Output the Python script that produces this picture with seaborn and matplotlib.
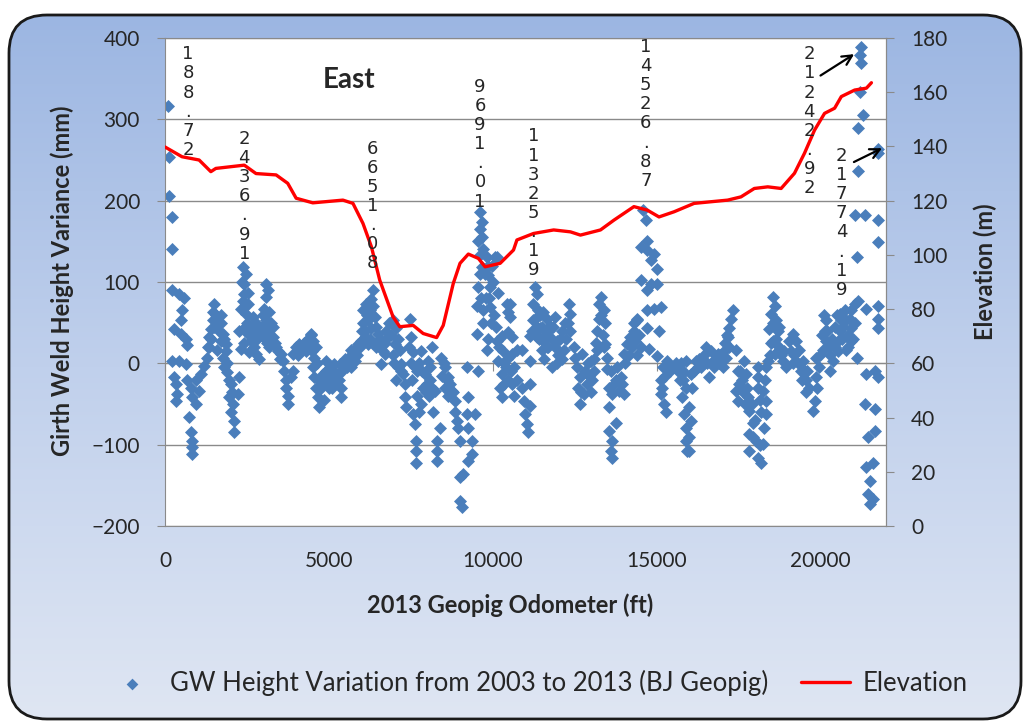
import numpy as np
import pandas as pd
import matplotlib
matplotlib.use('Agg')
import matplotlib.pyplot as plt
import seaborn as sns
from matplotlib.patches import FancyBboxPatch
from matplotlib.colors import LinearSegmentedColormap

# Girth weld height variation (mm) vs 2013 odometer (ft)
gw_ft = (
    [100, 110, 120, 200, 200, 225, 430, 580, 530, 480, 275, 480, 630, 680, 225, 430, 630, 275, 330, 380, 330, 680, 785, 835, 940, 735, 785, 835, 835, 835]
    + [1040, 940, 1090, 1195, 1295, 1345, 1345, 1400, 1450, 1450, 1500, 1600, 1705, 1755, 1705, 1860, 1600, 1755, 1805, 1905, 2010, 1960, 2060, 2010, 2110, 2110, 2265, 2215]
    + [2365, 2470, 2420, 2520, 2365, 2520, 2315, 2470, 2670, 2775, 2265, 2520, 2620, 2315, 2570, 2775, 2875, 2725, 2875, 2980]
    + [3080, 3130, 3080, 3030, 3180, 3080, 3235, 2980, 3285, 3390, 3180, 3540, 3590, 3645, 3695, 3695, 3745, 3745, 3850, 3900]
    + [3900, 4000, 4100, 4200, 4355, 4460, 4510, 4610, 4560, 4510, 4560, 4610, 4660, 4710, 4815, 4920, 5020, 5120, 5225, 5325, 5170, 5275, 5375, 5375]
    + [5580, 5680, 5785, 5680, 5885, 5990, 6090, 6190, 6040, 6140, 6295, 6345, 6400, 6190, 6295, 6500, 6550, 6705, 6600, 6805, 6960, 7060, 7010, 7160, 7210, 7260, 7315, 7315, 7365]
    + [7465, 7515, 7570, 7620, 7570, 7620, 7670, 7670, 7670, 7825, 7880, 7930, 8030, 8135, 8080, 8235, 8185, 8385, 8285, 8285, 8285, 8435, 8540, 8640, 8540, 8745, 8845, 8900, 9000, 9200, 9250, 9200, 9455, 9250, 9355, 9355, 9250, 9000, 9100, 9000, 9050, 9560]
    + [9610, 9660, 9660, 9560, 9610, 9660, 10075, 10120, 9815, 9970, 9865, 9560, 9920, 10175, 9510, 9715, 9920, 10430, 10480, 9510, 9865, 9815, 10120, 10275, 10480, 10175, 10275, 10225, 10275, 10480, 10585]
    + [10530, 10530, 10585, 10635, 10740, 10890, 10740, 10890, 11140, 10940, 11140, 10990, 11040, 11090, 11140]
    + [11290, 11345, 11240, 11395, 11545, 11240, 11445, 11650, 11750, 11910, 11140, 11345, 11545, 11700, 11495, 11800, 11960, 12115, 12215, 12320, 12370, 12370, 12165, 12470, 12520, 12730, 12575, 12675, 12830, 12985, 12880, 12780, 12675, 13035, 13085, 13185]
    + [13290, 13240, 13390, 13240, 13440, 13185, 13440, 13490, 13490, 13545, 13545, 13645, 13750, 13800, 13900, 13850, 14000, 13545, 13645, 13595, 13645, 13750, 14000, 14100, 14200, 14305, 14355, 14405, 14510, 14765, 15020]
    + [14600, 14670, 14720, 14510, 14715, 14920, 14820, 15020, 14510, 14820, 14715, 15020, 14405, 14715, 14920, 15125, 14715, 15075]
    + [15330, 15535, 15740, 15840, 15125, 15125, 15230, 15280, 15780, 15840, 15890, 15890, 15940]
    + [15890, 16045, 16095, 15995, 16045, 15995, 15995, 16200, 16350, 16505, 16605, 16710, 16860, 17015, 17115, 17220, 17170, 17220, 17270, 17320, 17425, 17475, 17525, 17425, 17475]
    + [17680, 17730, 17780, 17830, 17935, 17830, 17830, 18035, 18090, 18190, 18240, 18290, 18340, 18340, 18090, 18090, 18090, 18240, 18395, 18340]
    + [18545, 18600, 18495, 18650, 18445, 18700, 18545, 18750, 18600, 18850, 18950, 19160, 19260, 19055, 19360, 19465, 19515, 19565, 19665, 19820, 19770, 19870, 19970, 19870, 20075, 20180, 20125, 20180, 20280, 20385, 20430, 20535, 20585, 20640, 20585, 20790, 20945, 21045, 21145, 20945, 20945, 21100, 20790]
    + [21250, 21200, 21250, 21200, 21300, 21150, 21760, 21760, 21150, 21040, 21350, 21760, 21760, 21100, 21400, 21755, 21755, 21755, 21400, 21655, 21755, 21350, 21655, 21455, 21655, 21400, 21605, 21505, 21455, 21505, 21605]
)
gw_mm = (
    [316, 254, 206, 180, 140, 90, 85, 80, 65, 53, 42, 36, 30, 22, 3, 3, -1, -17, -25, -38, -46, -21, -30, -42, -50, -66, -85, -95, -103, -112]
    + [-34, -21, -13, -3, 7, 20, 32, 42, 53, 63, 73, 57, 49, 36, 28, 24, 16, 7, -5, -11, -25, -42, -50, -60, -71, -85, -17, -38]
    + [118, 110, 98, 87, 77, 73, 67, 61, 57, 50, 40, 36, 28, 18, 14, 12, 5, 20, 40, 46]
    + [98, 90, 81, 67, 63, 53, 49, 32, 32, 20, 20, 12, 3, -9, -21, -30, -40, -50, -17, -9]
    + [12, 20, 24, 20, 30, 36, 28, 20, 7, -5, -17, -30, -42, -54, -13, 3, -5, -21, -13, -1, -1, -13, -30, -42]
    + [7, 16, 3, -5, 24, 28, 32, 24, 65, 73, 79, 90, 57, 53, 44, 36, 20, 12, -1, 32, 53, 44, 24, 16, -1, -13, -25, -42, -54]
    + [55, 32, 14, -5, -62, -75, -95, -108, -122, -50, -30, -13, 3, 20, -21, -34, -60, -79, -95, -108, -120, 7, -5, -17, -30, -34, -46, -71, -95, -62, -42, -5, -62, -79, -95, -112, -120, -140, -136, -169, -177, -9]
    + [186, 174, 155, 151, 133, 118, 131, 131, 131, 120, 108, 94, 94, 87, 71, 65, 69, 73, 63, 36, 30, 16, 28, 34, 38, 3, -13, -30, -42, -21, 12]
    + [73, 57, 32, -5, 16, 16, -21, -30, -25, -46, -52, -62, -75, -85, 3]
    + [94, 85, 73, 65, 63, 53, 44, 55, 46, 57, 34, 32, 28, 20, 16, -5, 28, 40, 49, 73, 61, 40, 16, 20, 7, 12, -5, -17, -9, 3, -25, -38, -50, -21, -9, 16]
    + [81, 73, 65, 55, 49, 40, 24, 7, -7, -30, -54, -38, -21, -5, -17, -34, -38, -83, -95, -108, -116, -73, 12, 24, 32, 40, 28, 53, 20, 18, 9]
    + [188, 176, 151, 143, 139, 135, 127, 116, 102, 98, 90, 98, 55, 65, 67, 69, 44, 40]
    + [3, -5, 1, -11, -21, -38, -50, -60, -42, -62, -79, -95, -108]
    + [3, -13, -30, -54, -71, -91, -108, 3, -5, 20, -17, 3, 12, -5, 7, 20, 32, 44, 55, 65, 16, -9, -25, -34, -46]
    + [3, -13, -42, -58, -73, -87, -108, -95, -116, -122, -99, -79, -62, -46, -30, -17, -5, -34, 3, -5]
    + [81, 71, 61, 53, 42, 40, 28, 20, 12, 3, -5, 36, 28, 28, 16, 3, -9, -21, -30, -46, -58, -17, -5, 7, 16, 28, 40, 53, -9, 3, 20, 28, 40, 53, 61, 53, 65, 73, 77, 44, 28, 7, 16]
    + [389, 379, 369, 334, 305, 289, 264, 258, 237, 182, 182, 176, 149, 131, 67, 71, 55, 44, -13, -9, -17, -50, -56, -91, -83, -128, -122, -145, -161, -173, -167]
)

# more welds inside the dense clusters (ft, mm)
gw_dense = [
    (1300, 20), (1400, 30), (1500, 45), (1550, 60), (1650, 40), (1700, 60), (1800, 30), (1850, 15), (1900, 0), (1950, -20), (2050, -35),
    (2350, 100), (2400, 85), (2450, 70), (2500, 50), (2600, 45), (2650, 35), (2700, 40), (2800, 30), (2400, 25), (2450, 45),
    (3000, 60), (3100, 40), (3200, 35), (3300, 45), (3350, 25), (3450, 15), (3500, 5), (3100, 25),
    (4050, 10), (4150, 15), (4250, 25), (4300, 15), (4400, 25), (4500, 15), (4650, 0), (4700, -20), (4450, 35), (4350, 20),
    (4750, -30), (4850, -25), (4900, -10), (4950, -20), (5050, -15), (5100, -30), (5150, -10), (5200, -25), (5300, -20), (5400, -10), (5450, 0), (5500, 5), (5000, -30), (4850, -45),
    (5550, -5), (5650, 5), (5750, 15), (5850, 10), (5950, 20), (6000, 40), (6050, 50), (6100, 40), (6150, 60), (6250, 65), (6350, 70), (6450, 45), (6250, 30), (6350, 25), (6450, 20), (6550, 30), (6650, 15), (6700, 25), (6750, 40), (6850, 50), (6900, 35),
    (6950, 10), (7000, 0), (7100, 30), (7100, -5), (7200, -10), (7050, -20),
    (7450, 20), (7500, 0), (7550, -20), (7700, -10), (7750, 0), (7800, 15), (7850, -10), (7950, -35), (8000, -25), (8050, -40), (8100, -5), (8150, -30), (7700, -40), (7750, -60),
    (8450, -15), (8500, 0), (8600, -20), (8650, -40), (8700, -25), (8800, -35), (8850, -60), (8950, -80),
    (9600, 165), (9700, 140), (9750, 110), (9850, 120), (9900, 80), (9600, 110), (9650, 80), (9700, 50), (9800, 80), (9950, 50), (10000, 100), (10050, 60), (10100, 45),
    (10200, 20), (10300, 15), (10350, 0), (10400, -5), (10350, -25), (10450, 5), (10550, -10), (10600, -25), (10650, -40),
    (11200, 40), (11300, 55), (11350, 45), (11400, 30), (11450, 60), (11500, 45), (11600, 35), (11650, 20), (11700, 40), (11800, 30), (11850, 45), (11900, 20), (12000, 10), (12050, 30), (11550, 5), (11950, 0), (12100, 5), (12250, 30), (12300, 50),
    (12600, -30), (12700, -35), (12900, 0), (12950, -15), (13000, -35), (13100, 5), (13150, 25),
    (13350, 35), (13300, 60), (13400, 20), (13600, -10), (13700, -25), (13950, -25), (14050, 0), (14150, 10), (14250, 20), (14300, 50), (14450, 35), (14400, 10),
    (15200, -5), (15250, -15), (15400, -10), (15450, -5), (15600, 0), (15650, -10), (15700, -20), (15800, -20), (15900, -30), (15180, -30),
    (16150, -10), (16250, -5), (16300, 5), (16400, 5), (16450, 10), (16550, 0), (16650, 15), (16750, -5), (16800, 5), (16900, 0), (16950, 10), (17050, 15), (17100, 25), (17150, 35),
    (17550, -10), (17600, -20), (17650, -35), (17700, -50), (17750, -30), (17900, -50), (17950, -90), (18000, -70), (18150, -100), (18200, -60), (18150, -45), (18300, -20),
    (18450, 10), (18500, 25), (18550, 50), (18650, 30), (18700, 15), (18800, 10), (18900, 15), (18750, 45),
    (19100, 15), (19200, 10), (19300, 0), (19400, -10), (19450, -20), (19150, 0), (19550, -35), (19600, -10),
    (19900, -30), (20000, 10), (20050, 35), (20100, 60), (20200, 40), (20250, 20), (20300, 10), (20350, 30), (20450, 45), (20500, 60), (20550, 15), (20650, 30), (20700, 45), (20750, 65), (20850, 35), (20900, 55), (21000, 30), (21050, 50), (20850, 20),
]

# Elevation profile (m)
elev_ft = [0, 520, 1041, 1399, 1552, 2419, 2777, 3390, 3745, 4002, 4510, 5429, 5735, 6041, 6298, 6552,
           6960, 7165, 7572, 7878, 8288, 8490, 8797, 9002, 9256, 9562, 9767, 10227, 10634, 10738, 11246,
           11859, 12370, 12676, 13288, 13696, 14308, 14718, 15074, 15533, 16145, 17168, 17575, 17982,
           18392, 18800, 19207, 19513, 19819, 20125, 20432, 20637, 21044, 21402, 21555]
elev_m = [139.8, 136.2, 135.0, 130.7, 131.9, 133.1, 130.0, 129.5, 126.4, 120.9, 119.2, 120.2, 119.0, 111.6,
          103.0, 90.7, 77.1, 73.5, 74.0, 71.0, 69.5, 74.0, 89.5, 96.9, 100.3, 98.7, 95.6, 96.9, 101.8,
          105.5, 107.9, 109.2, 108.5, 107.3, 109.2, 112.8, 117.8, 116.5, 114.0, 115.9, 119.0, 120.2, 121.4,
          124.5, 125.1, 124.5, 130.1, 137.5, 146.0, 152.2, 154.1, 158.4, 160.8, 161.5, 163.5]

# vertical callouts (odometer labels)
note_text = ['188.72', '2436.91', '6651.08', '9691.01', '11325.19', '14526.87', '21242.92', '21774.19']
note_ft = [700, 2420, 6340, 9615, 11240, 14670, 19660, 20640]
note_mm = [391, 287, 275, 351, 290, 400, 391, 266]

gw = pd.DataFrame({'ft': gw_ft + [p[0] for p in gw_dense],
                   'mm': gw_mm + [p[1] for p in gw_dense]})
elev = pd.DataFrame({'ft': elev_ft, 'm': elev_m})

sns.set_style('white')
plt.rcParams['font.family'] = ['Lato', 'DejaVu Sans']

fig = plt.figure(figsize=(10.28, 7.22), dpi=100)

# rounded gradient background
bg = fig.add_axes([0, 0, 1, 1], zorder=-5)
bg.set_xlim(0, 1028)
bg.set_ylim(0, 722)
bg.axis('off')
cmap = LinearSegmentedColormap.from_list('bgc', ['#9cb6e2', '#c0d0ec', '#dfe6f3'])
frame = FancyBboxPatch((9, 3), 1012, 704, boxstyle='round,pad=0,rounding_size=38',
                       facecolor='none', edgecolor='#1a1a1a', lw=2)
im = bg.imshow(np.linspace(0, 1, 256).reshape(-1, 1), cmap=cmap, aspect='auto',
               extent=[9, 1021, 3, 707], origin='upper')
bg.add_patch(frame)
im.set_clip_path(frame)

ax = fig.add_axes([165 / 1028, 1 - 526 / 722, (886 - 165) / 1028, (526 - 38) / 722])
ax.set_facecolor('white')
sns.scatterplot(data=gw, x='ft', y='mm', ax=ax, marker='D', s=44, color='#4a7ebb',
                linewidth=0, label='GW Height Variation from 2003 to 2013 (BJ Geopig)')
ax.set_xlim(0, 22000)
ax.set_ylim(-200, 400)
ax.set_xticks(range(0, 20001, 5000))
ax.set_yticks(range(-200, 401, 100))
ax.grid(axis='y', color='#8a8a8a', lw=1)
ax.set_axisbelow(True)
for s in ax.spines.values():
    s.set_color('#8a8a8a')
ax.tick_params(axis='y', direction='out', length=6, color='#8a8a8a', pad=12, labelsize=15, left=True)
ax.tick_params(axis='x', length=0, pad=18, labelsize=15)
ax.set_xlabel('')
ax.set_ylabel('')

# x axis crosses at 0
sec = ax.secondary_xaxis(0, transform=ax.transData)
sec.set_xticks(range(0, 20001, 5000))
sec.tick_params(direction='out', length=6, color='#8a8a8a', labelbottom=False)
sec.spines['bottom'].set_color('#8a8a8a')

ax2 = ax.twinx()
sns.lineplot(data=elev, x='ft', y='m', ax=ax2, color='#ff0000', lw=2.4, label='Elevation')
ax2.set_ylim(0, 180)
ax2.set_yticks(range(0, 181, 20))
ax2.set_ylabel('')
for k in ['left', 'top', 'bottom']:
    ax2.spines[k].set_visible(False)
ax2.spines['right'].set_color('#8a8a8a')
ax2.tick_params(axis='y', direction='out', length=6, color='#8a8a8a', pad=12, labelsize=15, right=True)

h1, l1 = ax.get_legend_handles_labels()
h2, l2 = ax2.get_legend_handles_labels()
ax.get_legend().remove()
ax2.get_legend().remove()

for t, x, y in zip(note_text, note_ft, note_mm):
    ax2.text(x, y, '\n'.join(t), transform=ax.transData, ha='center', va='top',
             fontsize=13, linespacing=1.08, family='DejaVu Sans', zorder=5)

arrow = dict(arrowstyle='->,head_length=0.7,head_width=0.35', lw=1.6, color='black')
ax2.annotate('', xy=(21100, 382), xytext=(19930, 352), xycoords=ax.transData,
             textcoords=ax.transData, arrowprops=arrow)
ax2.annotate('', xy=(21955, 266), xytext=(20945, 246), xycoords=ax.transData,
             textcoords=ax.transData, arrowprops=arrow)

ax2.text(5630, 348, 'East', transform=ax.transData, ha='center', va='center',
         fontsize=20, fontweight='bold')

fig.text(510 / 1028, 1 - 605 / 722, '2013 Geopig Odometer (ft)', ha='center', va='center',
         fontsize=17, fontweight='bold')
fig.text(62 / 1028, 1 - 281 / 722, 'Girth Weld Height Variance (mm)', ha='center', va='center',
         rotation=90, fontsize=17, fontweight='bold')
fig.text(985 / 1028, 1 - 272 / 722, 'Elevation (m)', ha='center', va='center',
         rotation=90, fontsize=17, fontweight='bold')

fig.legend(h1 + h2, l1 + l2, loc='center', bbox_to_anchor=(538 / 1028, 1 - 683 / 722), ncol=2,
           frameon=False, fontsize=18.5, handlelength=1.9, columnspacing=1.3, handletextpad=0.5,
           markerscale=0.9)

fig.savefig('out.png', dpi=100)
